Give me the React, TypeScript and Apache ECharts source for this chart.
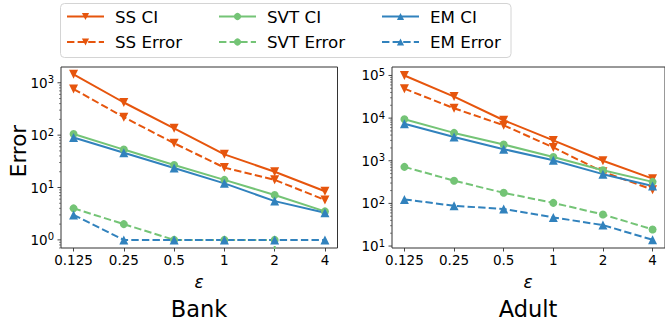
import React, { useEffect, useRef } from 'react';
import * as echarts from 'echarts';

// ---- data ----
const epsLabels = ['0.125', '0.25', '0.5', '1', '2', '4'];
const seriesNames = ['SS CI', 'SS Error', 'SVT CI', 'SVT Error', 'EM CI', 'EM Error'];

const bankSsCI = [1450, 420, 135, 43, 20, 8.5];
const bankSsErr = [760, 220, 70, 24, 14, 5.8];
const bankSvtCI = [105, 53, 27, 14, 7.2, 3.5];
const bankSvtErr = [4, 2, 1, 1, 1, 0];
const bankEmCI = [90, 46, 23.5, 12, 5.5, 3.3];
const bankEmErr = [3, 1, 1, 1, 1, 1];

const adultSsCI = [100000, 32000, 8900, 3000, 1000, 380];
const adultSsErr = [49000, 17000, 6800, 2050, 550, 210];
const adultSvtCI = [9400, 4500, 2400, 1230, 600, 320];
const adultSvtErr = [720, 340, 177, 103, 55, 24.5];
const adultEmCI = [7400, 3600, 1870, 1030, 485, 255];
const adultEmErr = [124, 88, 74, 47, 31, 14];

const panelTitles = ['Bank', 'Adult'];
const yMajorTicks = [[1, 10, 100, 1000], [10, 100, 1000, 10000, 100000]];

// ---- styles ----
const ORANGE = '#e6550d';
const GREEN = '#74c476';
const BLUE = '#3182bd';
const FONT = 'DejaVu Sans';
const AXIS = '#333';

const look: Record<string, { color: string; symbol: string; rotate: number; size: number; dashed: boolean }> = {
  'SS CI': { color: ORANGE, symbol: 'triangle', rotate: 180, size: 9, dashed: false },
  'SS Error': { color: ORANGE, symbol: 'triangle', rotate: 180, size: 9, dashed: true },
  'SVT CI': { color: GREEN, symbol: 'circle', rotate: 0, size: 8, dashed: false },
  'SVT Error': { color: GREEN, symbol: 'circle', rotate: 0, size: 8, dashed: true },
  'EM CI': { color: BLUE, symbol: 'triangle', rotate: 0, size: 9, dashed: false },
  'EM Error': { color: BLUE, symbol: 'triangle', rotate: 0, size: 9, dashed: true },
};

const panels = [
  { values: [bankSsCI, bankSsErr, bankSvtCI, bankSvtErr, bankEmCI, bankEmErr], yMin: 0.7, yMax: 2000, grid: { left: 61, top: 67, width: 276.5, height: 181 }, cx: 199 },
  { values: [adultSsCI, adultSsErr, adultSvtCI, adultSvtErr, adultEmCI, adultEmErr], yMin: 9, yMax: 158000, grid: { left: 392, top: 67, width: 277, height: 181 }, cx: 528 },
];

function minorTicks(min: number, max: number) {
  const out: number[] = [];
  for (let n = -2; n <= 6; n++) {
    for (let k = 2; k <= 9; k++) {
      const v = k * Math.pow(10, n);
      if (v > min && v < max) out.push(v);
    }
  }
  return out;
}

function tickSeries(g: number, values: number[], len: number, width: number) {
  return {
    type: 'custom',
    xAxisIndex: g,
    yAxisIndex: g,
    silent: true,
    clip: false,
    z: 5,
    data: values.map((v) => [0, v]),
    renderItem: (params: any, api: any) => {
      const y = api.coord([0, api.value(1)])[1];
      const x = params.coordSys.x;
      return {
        type: 'line',
        shape: { x1: x - len, y1: y, x2: x, y2: y },
        style: { stroke: AXIS, lineWidth: width },
      };
    },
  };
}

export default function App() {
  const ref = useRef<HTMLDivElement>(null);
  useEffect(() => {
    if (!ref.current) return;
    const chart = echarts.init(ref.current, undefined, { renderer: 'svg' });

    const grids: any[] = [];
    const xAxes: any[] = [];
    const yAxes: any[] = [];
    const series: any[] = [];
    const graphics: any[] = [];

    panels.forEach((p, g) => {
      grids.push({ ...p.grid, show: true, borderColor: AXIS, borderWidth: 1, backgroundColor: 'transparent' });
      xAxes.push({
        type: 'value',
        gridIndex: g,
        min: -0.25,
        max: 5.25,
        axisLine: { show: false },
        splitLine: { show: false },
        axisTick: { show: true, customValues: [0, 1, 2, 3, 4, 5], length: 3.5, lineStyle: { color: AXIS, width: 0.9 } },
        axisLabel: {
          customValues: [0, 1, 2, 3, 4, 5],
          formatter: (v: number) => epsLabels[Math.round(v)],
          fontSize: 13.5,
          fontFamily: FONT,
          color: '#000',
          margin: 5,
        },
      });
      yAxes.push({
        type: 'log',
        gridIndex: g,
        min: p.yMin,
        max: p.yMax,
        axisLine: { show: false },
        splitLine: { show: false },
        axisTick: { show: false },
        minorTick: { show: false },
        axisLabel: {
          showMinLabel: false,
          showMaxLabel: false,
          margin: 7,
          color: '#000',
          fontFamily: FONT,
          fontSize: 13.5,
          formatter: (v: number) => '{b|10}{s|' + Math.round(Math.log10(v)) + '}',
          rich: {
            b: { fontSize: 13.5, fontFamily: FONT, color: '#000', lineHeight: 16 },
            s: { fontSize: 10, fontFamily: FONT, color: '#000', lineHeight: 10, verticalAlign: 'top' },
          },
        },
      });
      seriesNames.forEach((name, i) => {
        const l = look[name];
        series.push({
          type: 'line',
          name,
          xAxisIndex: g,
          yAxisIndex: g,
          data: p.values[i].map((v, k) => [k, v > 0 ? v : 1e-300]),
          symbol: l.symbol,
          symbolRotate: l.rotate,
          symbolSize: l.size,
          showAllSymbol: true,
          clip: true,
          lineStyle: { color: l.color, width: 2, type: l.dashed ? [7.4, 3.2] : 'solid' },
          itemStyle: { color: l.color },
        });
      });
      series.push(tickSeries(g, yMajorTicks[g].filter((v) => v > p.yMin && v < p.yMax), 3.5, 0.9));
      series.push(tickSeries(g, minorTicks(p.yMin, p.yMax), 2, 0.6));

      graphics.push({
        type: 'text',
        x: p.cx,
        y: 281.5,
        style: { text: 'ε', fontSize: 17, fontStyle: 'italic', fontFamily: FONT, fill: '#000', textAlign: 'center', textVerticalAlign: 'middle' },
      });
      graphics.push({
        type: 'text',
        x: p.cx,
        y: 309,
        style: { text: panelTitles[g], fontSize: 22.5, fontFamily: FONT, fill: '#000', textAlign: 'center', textVerticalAlign: 'middle' },
      });
    });

    graphics.push({
      type: 'text',
      x: 18,
      y: 151,
      rotation: Math.PI / 2,
      style: { text: 'Error', fontSize: 21.5, fontFamily: FONT, fill: '#000', textAlign: 'center', textVerticalAlign: 'middle' },
    });
    graphics.push({
      type: 'rect',
      z: 0,
      shape: { x: 60.5, y: 3.5, width: 450.5, height: 54, r: 4 },
      style: { fill: 'rgba(255,255,255,0.8)', stroke: '#d4d4d4', lineWidth: 1 },
    });

    const legendCols = [
      { names: ['SS CI', 'SS Error'], left: 66 },
      { names: ['SVT CI', 'SVT Error'], left: 218 },
      { names: ['EM CI', 'EM Error'], left: 381 },
    ];
    const legends = legendCols.map((c) => ({
      data: c.names,
      left: c.left,
      top: 6.5,
      orient: 'vertical',
      padding: 0,
      itemGap: 5.5,
      itemWidth: 37,
      itemHeight: 9,
      selectedMode: false,
      textStyle: { fontSize: 16.7, fontFamily: FONT, color: '#000', lineHeight: 20, padding: [0, 0, 0, 6] },
    }));

    chart.setOption({
      animation: false,
      backgroundColor: '#fff',
      grid: grids,
      xAxis: xAxes,
      yAxis: yAxes,
      legend: legends,
      series,
      graphic: graphics,
    });
    return () => chart.dispose();
  }, []);
  return <div ref={ref} style={{ position: 'absolute', left: 0, top: 0, width: 665, height: 325 }} />;
}
